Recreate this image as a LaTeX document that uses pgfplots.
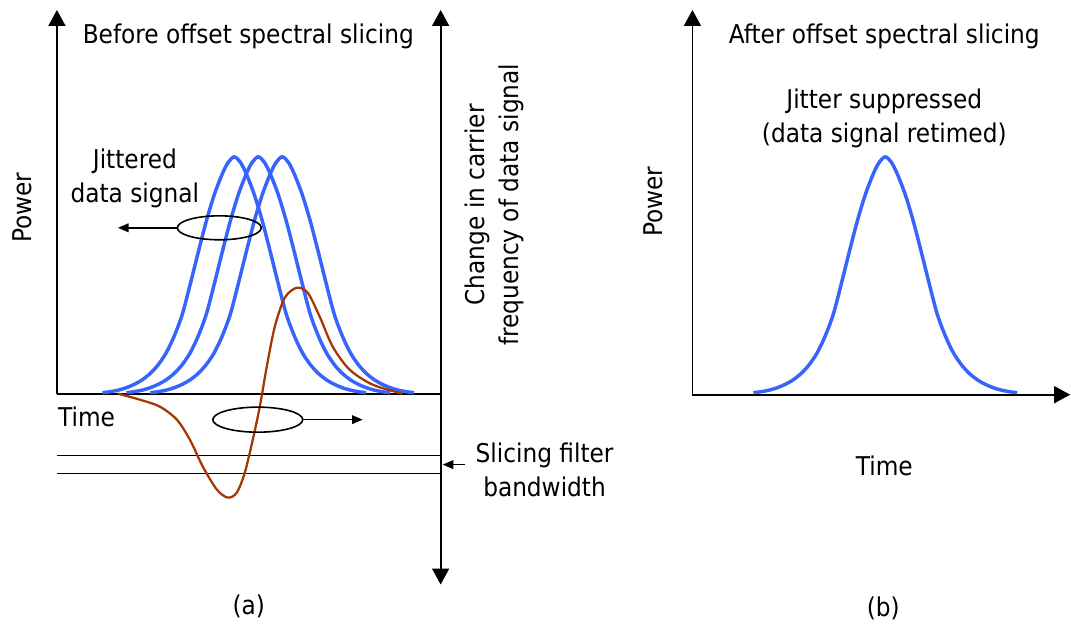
\documentclass[border=0pt]{standalone}
\usepackage{pgfplots}
\pgfplotsset{compat=1.18}
\usepackage{fontspec}
\setmainfont{DejaVu Sans Condensed}
\usetikzlibrary{arrows.meta}
\definecolor{pulse}{RGB}{55,100,250}
\definecolor{chirp}{RGB}{165,55,5}
\begin{document}
\begin{tikzpicture}[
  txt/.style={font=\fontsize{19.4pt}{25.5pt}\selectfont, inner sep=0pt, align=center},
  big/.style={-{Triangle[width=12.75pt,length=12pt]}},
  small/.style={-{Triangle[width=6.5pt,length=8pt]}}]
\begin{axis}[
  width=803.25pt, height=473.25pt, scale only axis,
  xmin=0, xmax=1071, ymin=0, ymax=631, y dir=reverse,
  hide axis, clip=false]
\path (axis cs:0,0) rectangle (axis cs:1071,631);
% ---------- panel (a) axes ----------
\draw[line width=1.3pt, big] (axis cs:57,394) -- (axis cs:57,10);
\draw[line width=1.3pt] (axis cs:57,394) -- (axis cs:441,394);
\draw[line width=1.3pt, big] (axis cs:441,300) -- (axis cs:441,10);
\draw[line width=1.3pt, big] (axis cs:441,300) -- (axis cs:441,585);
\draw[line width=1.3pt] (axis cs:57,456) -- (axis cs:441,456);
\draw[line width=1.3pt] (axis cs:57,474) -- (axis cs:441,474);
% ---------- pulses (a) ----------
\addplot[pulse, line width=2.6pt, smooth, tension=0.5] coordinates {
(102.5,393)(110.5,392)(118.5,390.4)(126.5,388)(134.5,384.6)(142.5,380)(150.5,373.6)(158.5,364.8)(166.5,352.8)(174.5,336)(182.5,314.4)(190.5,284)(198.5,252)(206.5,221.2)(214.5,194.8)(222.5,174)(228.5,162.3)(234.5,157)
(240.5,162.3)(246.5,174)(254.5,194.8)(262.5,221.2)(270.5,252)(278.5,284)(286.5,314.4)(294.5,336)(302.5,352.8)(310.5,364.8)(318.5,373.6)(326.5,380)(334.5,384.6)(342.5,388)(350.5,390.4)(358.5,392)(366.5,393)};
\addplot[pulse, line width=2.6pt, smooth, tension=0.5] coordinates {
(126.5,393)(134.5,392)(142.5,390.4)(150.5,388)(158.5,384.6)(166.5,380)(174.5,373.6)(182.5,364.8)(190.5,352.8)(198.5,336)(206.5,314.4)(214.5,284)(222.5,252)(230.5,221.2)(238.5,194.8)(246.5,174)(252.5,162.3)(258.5,157)
(264.5,162.3)(270.5,174)(278.5,194.8)(286.5,221.2)(294.5,252)(302.5,284)(310.5,314.4)(318.5,336)(326.5,352.8)(334.5,364.8)(342.5,373.6)(350.5,380)(358.5,384.6)(366.5,388)(374.5,390.4)(382.5,392)(390.5,393)};
\addplot[pulse, line width=2.6pt, smooth, tension=0.5] coordinates {
(150.5,393)(158.5,392)(166.5,390.4)(174.5,388)(182.5,384.6)(190.5,380)(198.5,373.6)(206.5,364.8)(214.5,352.8)(222.5,336)(230.5,314.4)(238.5,284)(246.5,252)(254.5,221.2)(262.5,194.8)(270.5,174)(276.5,162.3)(282.5,157)
(288.5,162.3)(294.5,174)(302.5,194.8)(310.5,221.2)(318.5,252)(326.5,284)(334.5,314.4)(342.5,336)(350.5,352.8)(358.5,364.8)(366.5,373.6)(374.5,380)(382.5,384.6)(390.5,388)(398.5,390.4)(406.5,392)(414.5,393)};
% ---------- frequency chirp ----------
\addplot[chirp, line width=1.7pt, smooth, tension=0.5] coordinates {
(118,394)(140,400)(160,407)(177,420)(190,440)(203,467)(217,490)(228,498)(237,493)(245,473)(253,440)(260,407)(267,367)(275,327)(285,298)(297,288)(308,293)(320,317)(333,347)(350,370)(373,385)(403,394)};
% ---------- annotations (a) ----------
\draw[line width=1.2pt] (axis cs:219.5,228) ellipse [x radius=31.5pt, y radius=9pt];
\draw[line width=1.2pt, small] (axis cs:177.5,228) -- (axis cs:118,228);
\draw[line width=1.2pt] (axis cs:258,420) ellipse [x radius=33.75pt, y radius=9.4pt];
\draw[line width=1.2pt, small] (axis cs:303,420) -- (axis cs:363,420);
\draw[line width=1.2pt, small] (axis cs:465,465) -- (axis cs:443,465);
\node[txt] at (axis cs:248.5,36) {Before offset spectral slicing};
\node[txt, rotate=90] at (axis cs:22,208) {Power};
\node[txt] at (axis cs:135,179) {Jittered\\data signal};
\node[txt, anchor=west] at (axis cs:58,417) {Time};
\node[txt, rotate=90] at (axis cs:495,205) {Change in carrier\\frequency of data signal};
\node[txt] at (axis cs:545,470) {Slicing filter\\bandwidth};
\node[txt] at (axis cs:249,607) {(a)};
% ---------- panel (b) ----------
\draw[line width=1.3pt, big] (axis cs:693,395) -- (axis cs:693,10);
\draw[line width=1.3pt, big] (axis cs:693,395) -- (axis cs:1071,395);
\addplot[pulse, line width=2.6pt, smooth, tension=0.5] coordinates {
(754,393)(762,392)(770,390.4)(778,388)(786,384.6)(794,380)(802,373.6)(810,364.8)(818,352.8)(826,336)(834,314.4)(842,284)(850,252)(858,221.2)(866,194.8)(874,174)(880,162.3)(886,157)
(892,162.3)(898,174)(906,194.8)(914,221.2)(922,252)(930,284)(938,314.4)(946,336)(954,352.8)(962,364.8)(970,373.6)(978,380)(986,384.6)(994,388)(1002,390.4)(1010,392)(1018,393)};
\node[txt] at (axis cs:885,36) {After offset spectral slicing};
\node[txt] at (axis cs:885,118) {Jitter suppressed\\(data signal retimed)};
\node[txt, rotate=90] at (axis cs:654,202) {Power};
\node[txt] at (axis cs:885,466) {Time};
\node[txt] at (axis cs:884,609) {(b)};
\end{axis}
\end{tikzpicture}
\end{document}
